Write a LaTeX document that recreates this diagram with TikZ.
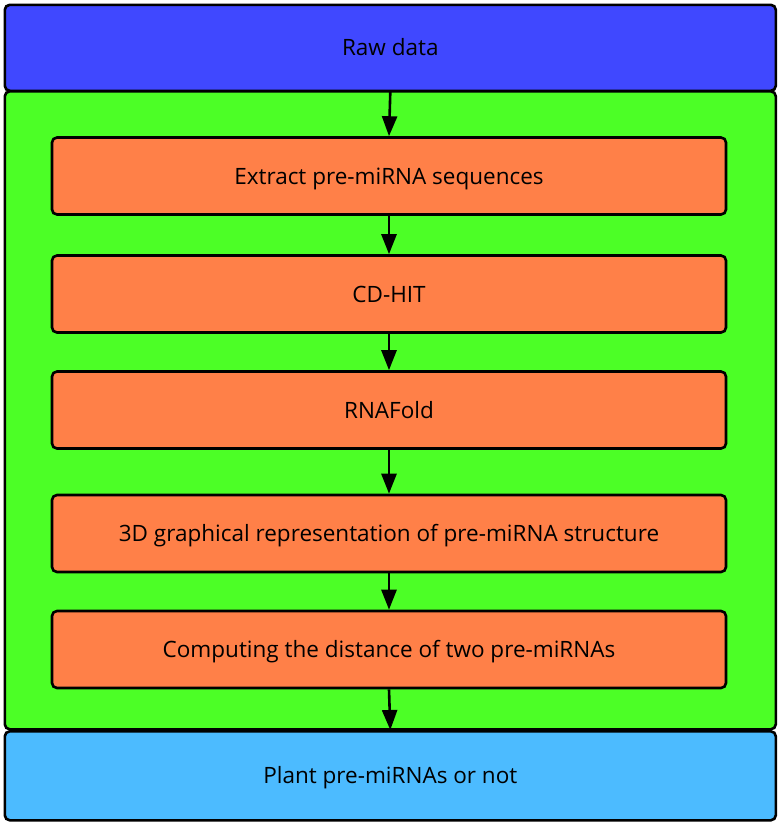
\documentclass[tikz,border=0pt]{standalone}
\usepackage{fontspec}
\setmainfont{Open Sans}
\usetikzlibrary{arrows.meta}
\definecolor{rawblue}{RGB}{64,72,255}
\definecolor{greenbg}{RGB}{76,255,38}
\definecolor{orangebox}{RGB}{255,128,72}
\definecolor{lightblue}{RGB}{76,187,255}
\begin{document}
\begin{tikzpicture}[x=1pt,y=-1pt,
  panel/.style={draw=black, line width=2.6pt, rounded corners=5pt},
  lbl/.style={font=\fontsize{22.5}{26}\selectfont, text=black, text height=16pt, text depth=0pt},
  stepbox/.style={panel, lbl, fill=orangebox, minimum width=674pt, minimum height=77pt},
  flow/.style={draw=black, line width=2.6pt, -{Triangle[length=20pt,width=15pt]}}
]
\useasboundingbox (0,0) rectangle (778,823);
\node[panel, lbl, fill=rawblue, minimum width=771pt, minimum height=86pt, anchor=north west] (raw) at (3.5,3.5) {Raw data};
\node[panel, fill=greenbg, minimum width=771pt, minimum height=638pt, anchor=north west] (green) at (3.5,90) {};
\node[panel, lbl, fill=lightblue, minimum width=771pt, minimum height=89pt, anchor=north west] (out) at (3.5,730) {Plant pre-miRNAs or not};
\node[stepbox] (s1) at (389,176) {Extract pre-miRNA sequences};
\node[stepbox] (s2) at (389,294) {CD-HIT};
\node[stepbox] (s3) at (389,410) {RNAFold};
\node[stepbox] (s4) at (389,533.5) {3D graphical representation of pre-miRNA structure};
\node[stepbox] (s5) at (389,649.5) {Computing the distance of two pre-miRNAs};
\draw[flow] (raw.south) -- (s1.north);
\draw[flow] (s1) -- (s2);
\draw[flow] (s2) -- (s3);
\draw[flow] (s3) -- (s4);
\draw[flow] (s4) -- (s5);
\draw[flow] (s5.south) -- (out.north);
\end{tikzpicture}
\end{document}
